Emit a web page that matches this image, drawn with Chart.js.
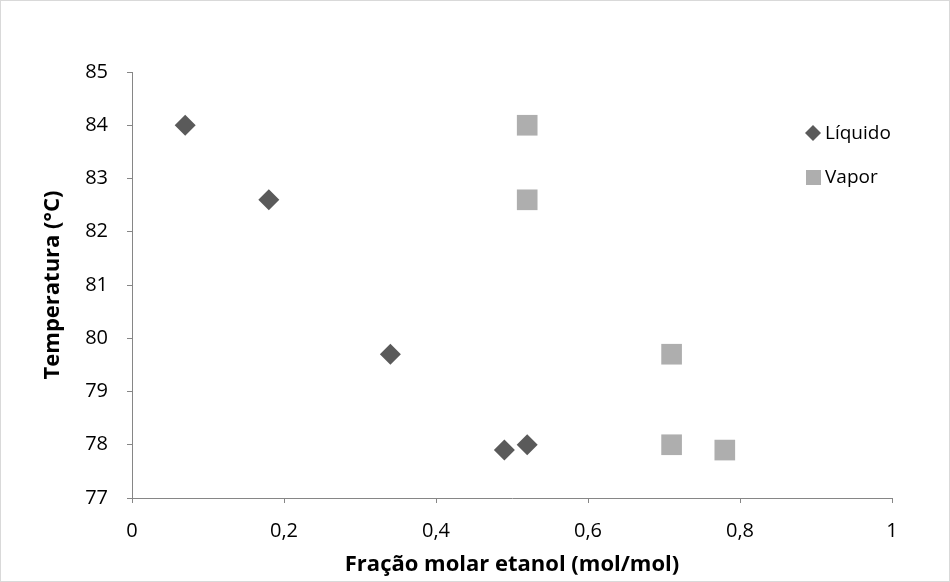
<!DOCTYPE html>
<html>
<head>
<meta charset="utf-8">
<script src="https://cdn.jsdelivr.net/npm/chart.js@4"></script>
<style>
  body { margin: 0; background: #fff; }
  #wrap { position: relative; width: 950px; height: 582px; }
</style>
</head>
<body>
<div id="wrap"><canvas id="vlChart"></canvas></div>
<script>
// Data
const liquidoX = [0.07, 0.18, 0.34, 0.49, 0.52];
const liquidoY = [84.0, 82.6, 79.7, 77.9, 78.0];
const vaporX = [0.52, 0.52, 0.71, 0.71, 0.78];
const vaporY = [84.0, 82.6, 79.7, 78.0, 77.9];
const xTicks = [0, 0.2, 0.4, 0.6, 0.8, 1];
const yTicks = [77, 78, 79, 80, 81, 82, 83, 84, 85];

const FONT = '"Open Sans", "Noto Sans", sans-serif';
const AXIS_GREY = '#868686';

function toPoints(xs, ys) {
    return xs.map((x, i) => ({ x: x, y: ys[i] }));
}

// outer frame + legend drawn inside the plot, like the original
const framePlugin = {
    id: 'frame',
    beforeDraw(chart) {
        const c = chart.ctx;
        c.save();
        c.fillStyle = '#fff';
        c.fillRect(0, 0, chart.width, chart.height);
        c.strokeStyle = '#d9d9d9';
        c.lineWidth = 1;
        c.strokeRect(0.5, 0.5, chart.width - 1, chart.height - 1);
        c.restore();
    },
    afterDraw(chart) {
        const c = chart.ctx;
        const x0 = 813, rows = [133, 177];
        c.save();
        c.font = '19px ' + FONT;
        c.textBaseline = 'middle';
        chart.data.datasets.forEach((ds, i) => {
            const y = rows[i];
            c.fillStyle = ds.backgroundColor;
            if (ds.pointStyle === 'rectRot') {
                c.beginPath();
                c.moveTo(x0, y - 8);
                c.lineTo(x0 + 8, y);
                c.lineTo(x0, y + 8);
                c.lineTo(x0 - 8, y);
                c.closePath();
                c.fill();
            } else {
                c.fillRect(x0 - 7, y - 7, 15, 15);
            }
            c.fillStyle = '#000';
            c.fillText(ds.label, x0 + 12, y + 1);
        });
        c.restore();
    }
};

const ctx = document.getElementById('vlChart').getContext('2d');

const vlChart = new Chart(ctx, {
    type: 'scatter',
    data: {
        datasets: [{
            label: 'Líquido',
            data: toPoints(liquidoX, liquidoY),
            pointStyle: 'rectRot',
            pointRadius: 10.5,
            pointHoverRadius: 10.5,
            backgroundColor: '#5a5a5a',
            borderColor: '#5a5a5a',
            borderWidth: 0
        }, {
            label: 'Vapor',
            data: toPoints(vaporX, vaporY),
            pointStyle: 'rect',
            pointRadius: 14.6,
            pointHoverRadius: 14.6,
            backgroundColor: '#aeaeae',
            borderColor: '#aeaeae',
            borderWidth: 0
        }]
    },
    options: {
        responsive: true,
        maintainAspectRatio: false,
        animation: false,
        layout: {
            padding: { left: 0, top: 72, right: 58, bottom: 0 }
        },
        scales: {
            x: {
                type: 'linear',
                min: 0,
                max: 1,
                afterBuildTicks(scale) {
                    scale.ticks = xTicks.map(v => ({ value: v }));
                },
                afterFit(scale) { scale.height = 84; },
                ticks: {
                    color: '#000',
                    font: { family: FONT, size: 20 },
                    padding: 16,
                    maxRotation: 0,
                    callback: v => String(v).replace('.', ',')
                },
                grid: {
                    display: true,
                    drawOnChartArea: false,
                    drawTicks: true,
                    tickLength: 5,
                    color: AXIS_GREY
                },
                border: { color: AXIS_GREY, width: 1 },
                title: {
                    display: true,
                    text: 'Fração molar etanol (mol/mol)',
                    color: '#000',
                    font: { family: FONT, size: 22, weight: 'bold' },
                    padding: { top: 18 }
                }
            },
            y: {
                type: 'linear',
                min: 77,
                max: 85,
                afterBuildTicks(scale) {
                    scale.ticks = yTicks.map(v => ({ value: v }));
                },
                afterFit(scale) { scale.width = 132; },
                ticks: {
                    color: '#000',
                    font: { family: FONT, size: 20 },
                    padding: 19
                },
                grid: {
                    display: true,
                    drawOnChartArea: false,
                    drawTicks: true,
                    tickLength: 5,
                    color: AXIS_GREY
                },
                border: { color: AXIS_GREY, width: 1 },
                title: {
                    display: true,
                    text: 'Temperatura (°C)',
                    color: '#000',
                    font: { family: FONT, size: 22, weight: 'bold' },
                    padding: { top: 40 }
                }
            }
        },
        plugins: {
            legend: { display: false },
            tooltip: { enabled: false }
        }
    },
    plugins: [framePlugin]
});
</script>
</body>
</html>
